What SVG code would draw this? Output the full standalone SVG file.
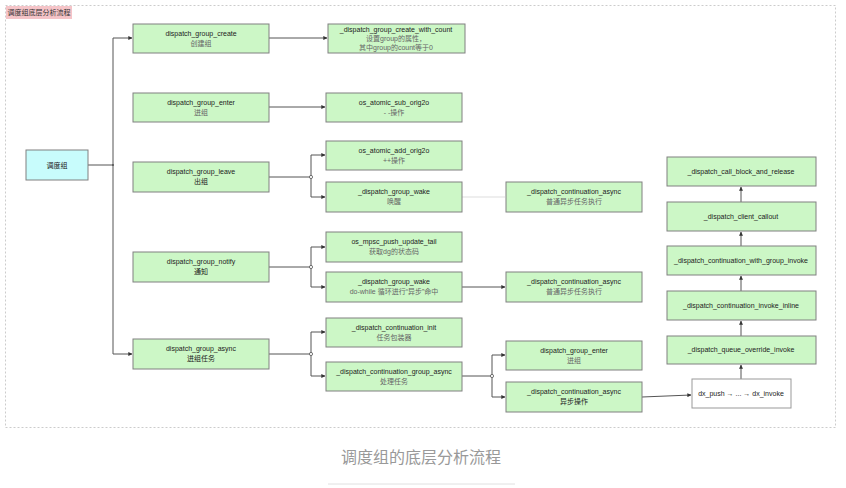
<svg xmlns="http://www.w3.org/2000/svg" width="846" height="488" viewBox="0 0 846 488">
<defs>
<marker id="ah" viewBox="0 0 6 6" refX="5.5" refY="3" markerWidth="4" markerHeight="4" orient="auto" markerUnits="userSpaceOnUse">
<path d="M0,0 L6,3 L0,6 Z" fill="#333"/>
</marker>
<style>
.n{fill:#ccf7c6;stroke:#808080;stroke-width:1}
.r{fill:#c8fcfc;stroke:#808080;stroke-width:1}
.w{fill:#ffffff;stroke:#999;stroke-width:1}
.t{font-family:"Liberation Sans","Noto Sans CJK SC",sans-serif;font-size:7px;fill:#222;text-anchor:middle}
.s{font-family:"Liberation Sans","Noto Sans CJK SC",sans-serif;font-size:7px;fill:#666;text-anchor:middle}
.e{fill:none;stroke:#555;stroke-width:1}
.a{marker-end:url(#ah)}
.j{fill:#fff;stroke:#555;stroke-width:0.8}
</style>
</defs>
<rect x="0" y="0" width="846" height="488" fill="#fff"/>
<rect x="5.5" y="5.5" width="830" height="422" fill="none" stroke="#ccc" stroke-dasharray="2,2"/>
<g id="title">
<rect x="6" y="6" width="66" height="13" fill="#f5c4c8"/>
<text x="39" y="15" style="font-family:'Noto Sans CJK SC',sans-serif;font-size:7px;fill:#333;text-anchor:middle">调度组底层分析流程</text>
</g>
<g id="connectors">
<path class="e" d="M88,165 H113"/>
<path class="e a" d="M113,354 V38 H132"/>
<path class="e a" d="M113,354 H132"/>
<circle cx="113" cy="165" r="1" fill="#555"/>
<path class="e a" d="M269,38 H327"/>
<path class="e a" d="M269,107 H325"/>
<path class="e" d="M269,177 H311"/>
<path class="e a" d="M311,155 V197 H325"/>
<path class="e a" d="M311,155 H325"/>
<circle class="j" cx="311" cy="177" r="1.6"/>
<path class="e" d="M462,197 H505" style="stroke:#ddd"/>
<path class="e" d="M269,267 H311"/>
<path class="e a" d="M311,247 V287 H325"/>
<path class="e a" d="M311,247 H325"/>
<circle class="j" cx="311" cy="267" r="1.6"/>
<path class="e a" d="M462,287 H505"/>
<path class="e" d="M269,354 H311"/>
<path class="e a" d="M311,332 V376 H325"/>
<path class="e a" d="M311,332 H325"/>
<circle class="j" cx="311" cy="354" r="1.6"/>
<path class="e" d="M462,376 H492"/>
<path class="e a" d="M492,355 V397 H505"/>
<path class="e a" d="M492,355 H505"/>
<circle class="j" cx="492" cy="376" r="1.6"/>
<path class="e a" d="M642,397 L691,395"/>
<path class="e a" d="M741,379 V365"/>
<path class="e a" d="M741,336 V321"/>
<path class="e a" d="M741,291 V276"/>
<path class="e a" d="M741,246 V232"/>
<path class="e a" d="M741,202 V187"/>
</g>
<g id="root"><rect class="r" x="26" y="150" width="62" height="30"/><text class="t" x="57" y="168" style="font-family:'Noto Sans CJK SC',sans-serif">调度组</text></g>
<g id="create"><rect class="n" x="133" y="24" width="136" height="29"/><text class="t" x="201" y="36">dispatch_group_create</text><text class="s" x="201" y="46">创建组</text></g>
<g id="enter"><rect class="n" x="133" y="93" width="136" height="29"/><text class="t" x="201" y="105">dispatch_group_enter</text><text class="s" x="201" y="115">进组</text></g>
<g id="leave"><rect class="n" x="133" y="162" width="136" height="30"/><text class="t" x="201" y="174">dispatch_group_leave</text><text class="t" x="201" y="184">出组</text></g>
<g id="notify"><rect class="n" x="133" y="252" width="136" height="30"/><text class="t" x="201" y="264">dispatch_group_notify</text><text class="t" x="201" y="274">通知</text></g>
<g id="async"><rect class="n" x="133" y="339" width="136" height="30"/><text class="t" x="201" y="351">dispatch_group_async</text><text class="t" x="201" y="361">进组任务</text></g>
<g id="create_with_count"><rect class="n" x="328" y="24" width="137" height="29"/><text class="t" x="396" y="32">_dispatch_group_create_with_count</text><text class="s" x="396" y="41">设置group的属性，</text><text class="s" x="396" y="50">其中group的count等于0</text></g>
<g id="sub_orig2o"><rect class="n" x="326" y="93" width="136" height="29"/><text class="t" x="394" y="105">os_atomic_sub_orig2o</text><text class="s" x="394" y="115">- -操作</text></g>
<g id="add_orig2o"><rect class="n" x="326" y="141" width="136" height="29"/><text class="t" x="394" y="153">os_atomic_add_orig2o</text><text class="s" x="394" y="163">++操作</text></g>
<g id="group_wake1"><rect class="n" x="326" y="182" width="136" height="30"/><text class="t" x="394" y="194">_dispatch_group_wake</text><text class="s" x="394" y="204">唤醒</text></g>
<g id="mpsc"><rect class="n" x="326" y="232" width="136" height="30"/><text class="t" x="394" y="244">os_mpsc_push_update_tail</text><text class="s" x="394" y="254">获取dg的状态码</text></g>
<g id="group_wake2"><rect class="n" x="326" y="272" width="136" height="30"/><text class="t" x="394" y="284">_dispatch_group_wake</text><text class="s" x="394" y="294">do-while 循环进行“异步”命中</text></g>
<g id="cont_init"><rect class="n" x="326" y="318" width="136" height="29"/><text class="t" x="394" y="330">_dispatch_continuation_init</text><text class="s" x="394" y="340">任务包装器</text></g>
<g id="cont_group_async"><rect class="n" x="326" y="362" width="136" height="29"/><text class="t" x="394" y="374">_dispatch_continuation_group_async</text><text class="s" x="394" y="384">处理任务</text></g>
<g id="cont_async1"><rect class="n" x="506" y="182" width="136" height="30"/><text class="t" x="574" y="194">_dispatch_continuation_async</text><text class="s" x="574" y="204">普通异步任务执行</text></g>
<g id="cont_async2"><rect class="n" x="506" y="272" width="136" height="30"/><text class="t" x="574" y="284">_dispatch_continuation_async</text><text class="s" x="574" y="294">普通异步任务执行</text></g>
<g id="group_enter2"><rect class="n" x="506" y="341" width="136" height="29"/><text class="t" x="574" y="353">dispatch_group_enter</text><text class="s" x="574" y="363">进组</text></g>
<g id="cont_async3"><rect class="n" x="506" y="382" width="136" height="30"/><text class="t" x="574" y="394">_dispatch_continuation_async</text><text class="t" x="574" y="404">异步操作</text></g>
<g id="call_block"><rect class="n" x="667" y="157" width="149" height="29"/><text class="t" x="741" y="174">_dispatch_call_block_and_release</text></g>
<g id="client_callout"><rect class="n" x="667" y="202" width="149" height="29"/><text class="t" x="741" y="219">_dispatch_client_callout</text></g>
<g id="with_group_invoke"><rect class="n" x="667" y="246" width="149" height="29"/><text class="t" x="741" y="263">_dispatch_continuation_with_group_invoke</text></g>
<g id="invoke_inline"><rect class="n" x="667" y="291" width="149" height="29"/><text class="t" x="741" y="308">_dispatch_continuation_invoke_inline</text></g>
<g id="override_invoke"><rect class="n" x="667" y="336" width="149" height="28"/><text class="t" x="741" y="352">_dispatch_queue_override_invoke</text></g>
<g id="dx"><rect class="w" x="692" y="379" width="99" height="29"/><text class="t" x="741" y="396">dx_push → ... → dx_invoke</text></g>
<g id="caption">
<text x="421" y="463" style="font-family:'Noto Sans CJK SC',sans-serif;font-size:16px;fill:#999;text-anchor:middle">调度组的底层分析流程</text>
<line x1="328" y1="484" x2="515" y2="484" stroke="#e0e0e0" stroke-width="1"/>
</g>
</svg>
